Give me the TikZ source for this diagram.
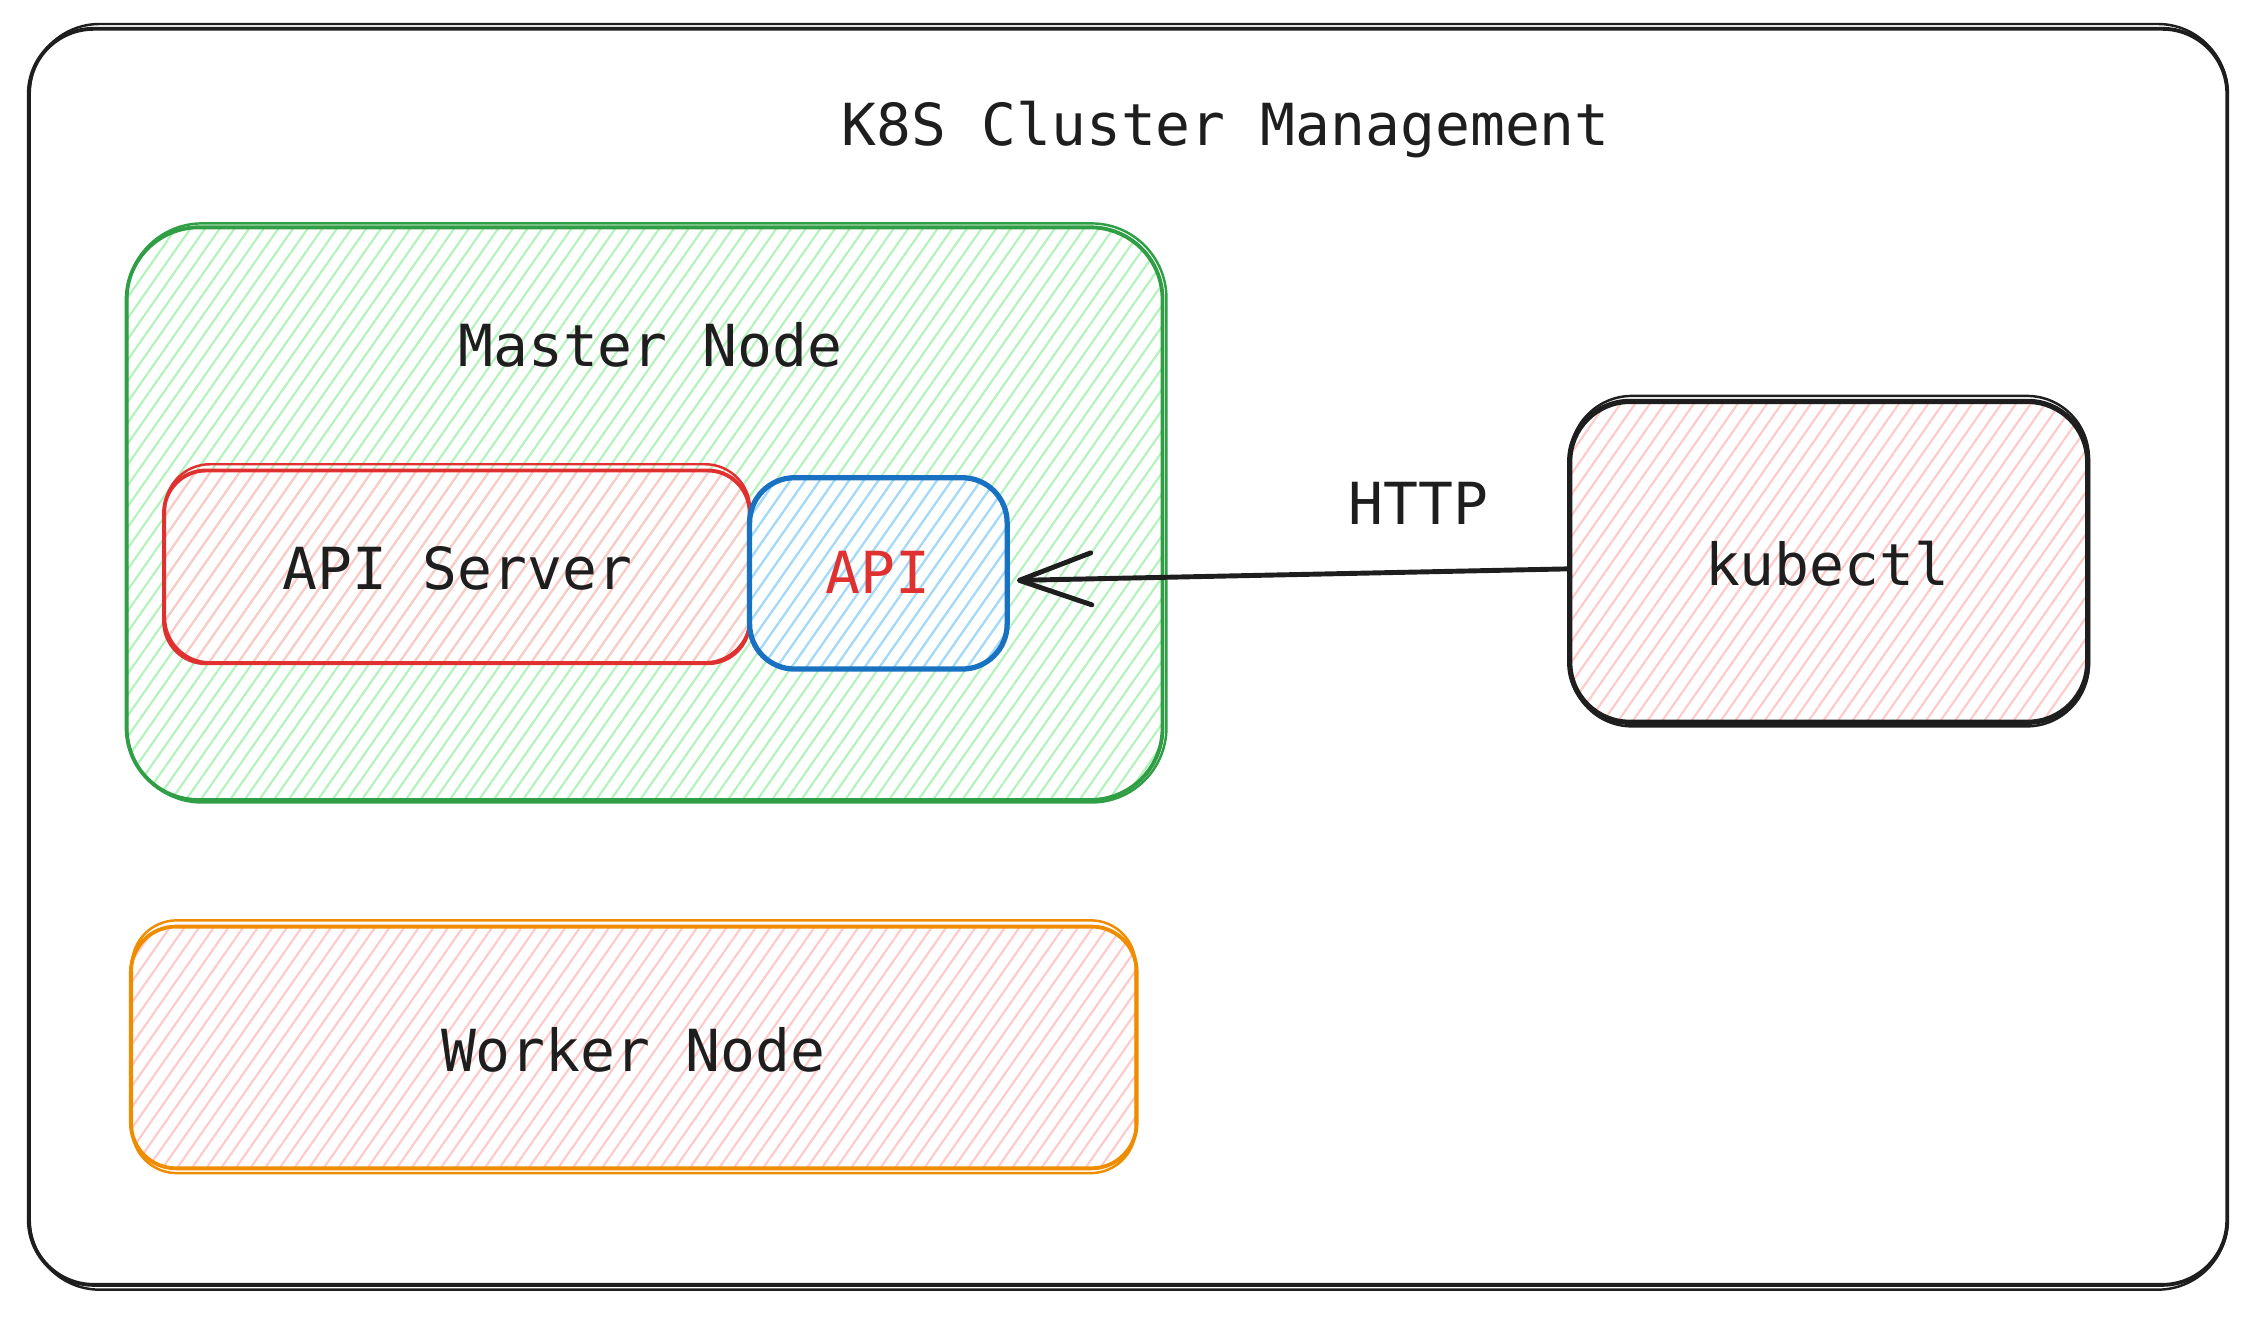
\documentclass[tikz,border=0pt]{standalone}
\usepackage{fontspec}
\newfontfamily\monofnt{DejaVu Sans Mono}
\usetikzlibrary{fit,patterns.meta,arrows.meta}
\definecolor{ink}{HTML}{1E1E1E}
\definecolor{grnS}{HTML}{2F9E44}
\definecolor{grnF}{HTML}{B2F2BB}
\definecolor{redS}{HTML}{E03131}
\definecolor{redF}{HTML}{FFC9C9}
\definecolor{bluS}{HTML}{1971C2}
\definecolor{bluF}{HTML}{A5D8FF}
\definecolor{orgS}{HTML}{F08C00}
\tikzset{
  txt/.style={font=\monofnt\fontsize{16.5}{20}\selectfont, text=ink, inner sep=0pt},
  box/.style={draw=#1, line width=1.1pt, inner sep=0pt},
  hatch/.style={pattern={Lines[angle=55, distance=0.12cm, line width=0.6pt]}, pattern color=#1},
  rough/.style={draw=#1, line width=0.7pt},
}
\begin{document}
\begin{tikzpicture}[x=0.014388cm, y=-0.014388cm]
\useasboundingbox (0,0) rectangle (1568,915);
% outer cluster
\node[box=ink, fit={(20,20) (1548,893)}, rounded corners=0.65cm] (cluster) {};
\draw[rough=ink, rounded corners=0.7cm] ([shift={(2,-2)}]cluster.north west) rectangle ([shift={(-1,2)}]cluster.south east);
\node[txt] (title) at (852,90) {K8S Cluster Management};
% master node
\node[box=grnS, hatch=grnF, fit={(88,158) (808,556)}, rounded corners=0.72cm] (master) {};
\draw[rough=grnS, rounded corners=0.75cm] ([shift={(1,-2)}]master.north west) rectangle ([shift={(2,1)}]master.south east);
\node[txt] (mastertxt) at (452,240) {Master Node};
% API server
\node[box=redS, hatch=redF, fit={(114,327) (521,461)}, rounded corners=0.42cm] (apiserver) {};
\draw[rough=redS, rounded corners=0.45cm] ([shift={(2,-3)}]apiserver.north west) rectangle ([shift={(-1,-2)}]apiserver.south east);
\node[txt] (apiservertxt) at (318,395) {API Server};
% API
\node[box=bluS, hatch=bluF, fit={(521,332) (700,465)}, rounded corners=0.45cm, line width=1.5pt] (api) {};
\node[txt, text=redS] (apitxt) at (610,398) {API};
% kubectl
\node[box=ink, hatch=redF, fit={(1091,279) (1451,502)}, rounded corners=0.6cm, line width=1.5pt] (kubectl) {};
\draw[rough=ink, rounded corners=0.62cm] ([shift={(2,-2)}]kubectl.north west) rectangle ([shift={(-1,1)}]kubectl.south east);
\node[txt] (kubectltxt) at (1270,392) {kubectl};
% worker node
\node[box=orgS, hatch=redF, fit={(91,644) (790,812)}, rounded corners=0.45cm] (worker) {};
\draw[rough=orgS, rounded corners=0.45cm] ([shift={(2,-3)}]worker.north west) rectangle ([shift={(-2,2)}]worker.south east);
\node[txt] (workertxt) at (440,730) {Worker Node};
% HTTP arrow
\coordinate (kstart) at ([yshift=-2pt]kubectl.west);
\coordinate (aend) at ([xshift=2pt,yshift=-2pt]api.east);
\draw[ink, line width=1.4pt, -{Straight Barb[length=0.72cm, width=0.52cm, line width=1.4pt, round]}] (kstart) -- (aend);
\node[txt] (http) at (986,350) {HTTP};
\end{tikzpicture}
\end{document}
